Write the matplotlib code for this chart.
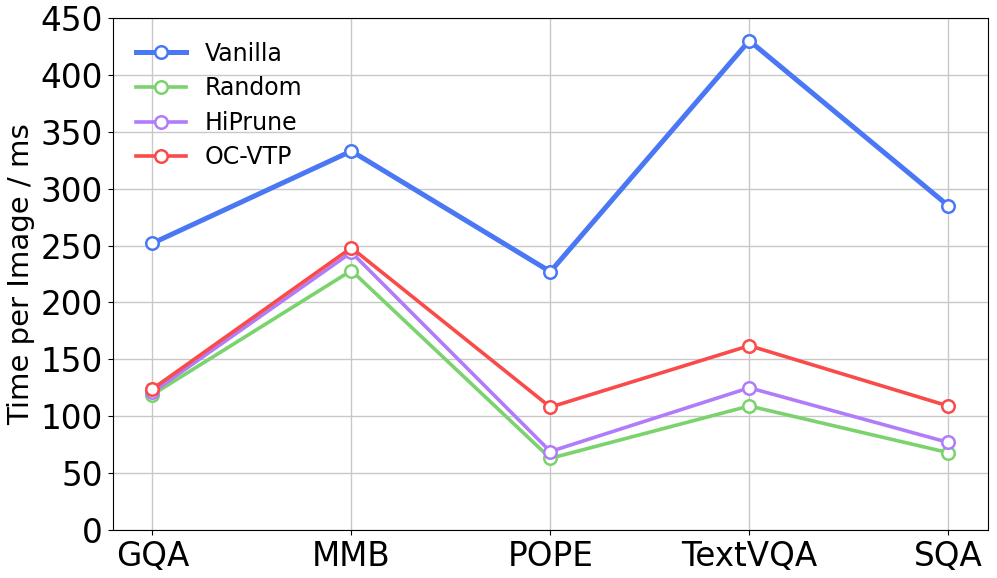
import matplotlib
matplotlib.use('Agg')
import matplotlib.pyplot as plt
import numpy as np

benchmarks = ['GQA', 'MMB', 'POPE', 'TextVQA', 'SQA']
vanilla = [252, 333, 227, 430, 285]
random_ = [119, 228, 63, 109, 68]
hiprune = [121, 244, 69, 125, 77]
ocvtp = [124, 248, 108, 162, 109]

fig = plt.figure(figsize=(9.97, 5.78), dpi=100)
ax = fig.add_axes([0.113, 0.083, 0.878, 0.886])
x = np.arange(len(benchmarks))

ax.plot(x, vanilla, color='#4a78f5', lw=3.6, marker='o', ms=9, mfc='white', mew=1.8, label='Vanilla', zorder=3)
ax.plot(x, random_, color='#7ad36c', lw=2.6, marker='o', ms=9, mfc='white', mew=1.8, label='Random', zorder=3)
ax.plot(x, hiprune, color='#b07cfa', lw=2.6, marker='o', ms=9, mfc='white', mew=1.8, label='HiPrune', zorder=3)
ax.plot(x, ocvtp, color='#fa4a4a', lw=2.6, marker='o', ms=9, mfc='white', mew=1.8, label='OC-VTP', zorder=3)

ax.set_xticks(x)
ax.set_xticklabels(benchmarks)
ax.set_xlim(-0.2, 4.2)
ax.set_ylim(0, 450)
ax.set_yticks(np.arange(0, 451, 50))
ax.tick_params(labelsize=23.5)
ax.set_ylabel('Time per Image / ms', fontsize=21)
ax.grid(True, color='#c8c8c8', lw=1.0)
ax.set_axisbelow(True)
ax.legend(loc='upper left', fontsize=17, frameon=False, handlelength=2.1, labelspacing=0.45,
          borderaxespad=0.6)

fig.savefig('out.png', dpi=100)
